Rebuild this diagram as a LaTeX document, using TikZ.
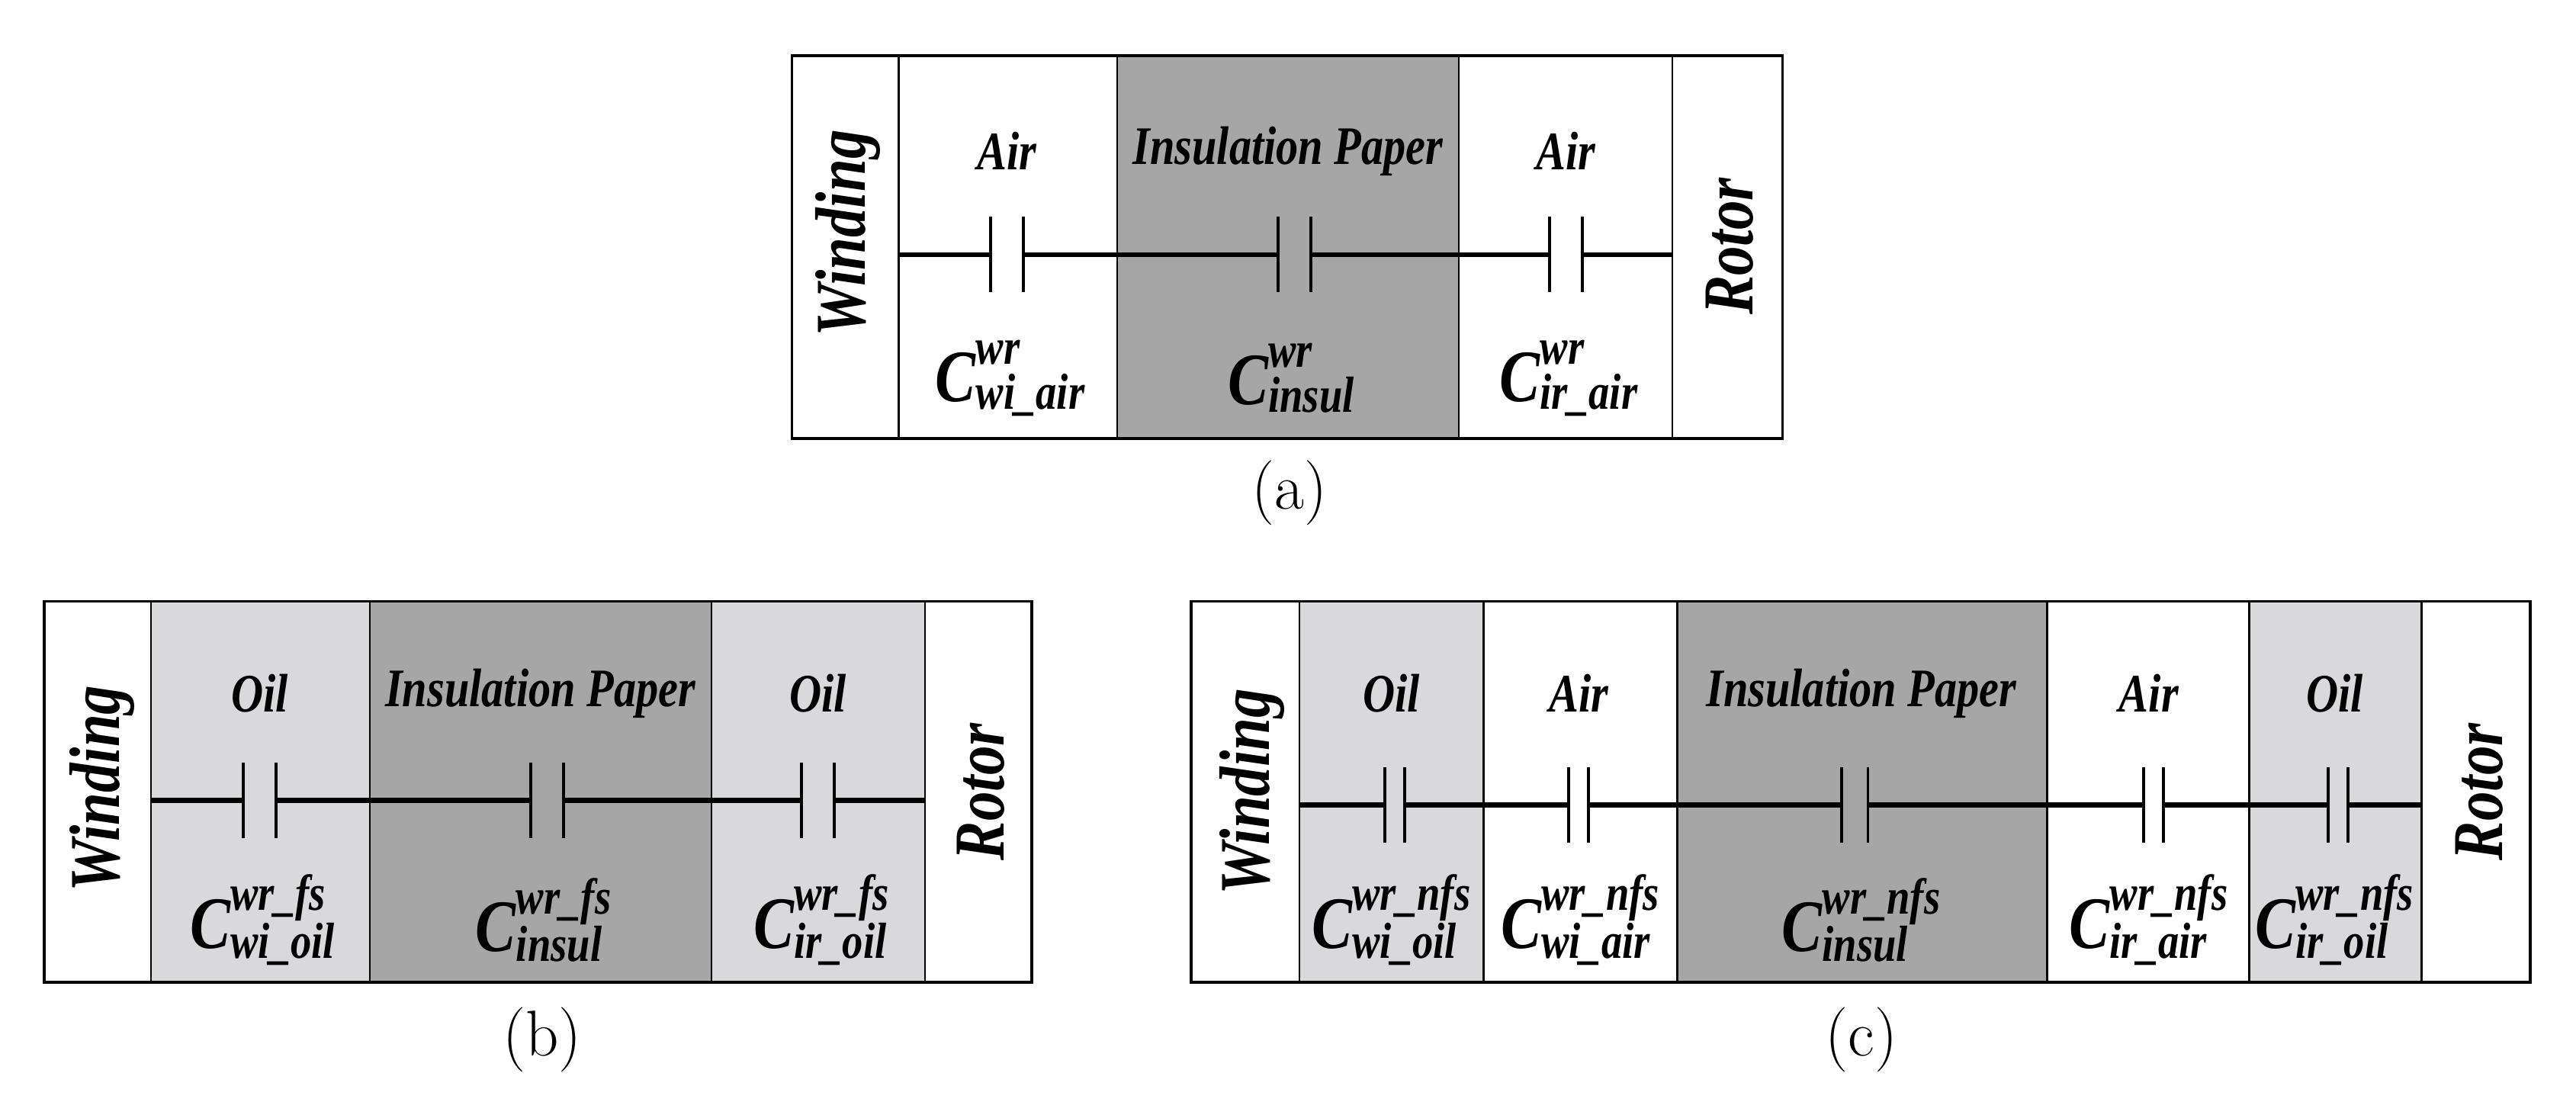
\documentclass[tikz,border=0pt]{standalone}
\usepackage{fontspec}
\newfontfamily\lab{Liberation Serif}[FakeStretch=0.82]
\usetikzlibrary{calc}
\definecolor{dk}{HTML}{A6A6A6}
\definecolor{lt}{HTML}{D9D9DB}
\newcommand\mycap[6]{%
 \coordinate (#1l) at ({#4-#6},#5); \coordinate (#1r) at ({#4+#6},#5);
 \coordinate (#1a) at (#2,#5); \coordinate (#1b) at (#3,#5);
 \draw[wire] (#1a) -- (#1l); \draw[wire] (#1r) -- (#1b);
 \draw[plate] ($(#1l)+(0,-23)$) -- ($(#1l)+(0,23)$);
 \draw[plate] ($(#1r)+(0,-23)$) -- ($(#1r)+(0,23)$);}
\newcommand\Cl[2]{\mbox{C}^{\mbox{\fontsize{44}{44}\selectfont #1}}_{\mbox{\fontsize{44}{44}\selectfont #2}}}
\begin{document}
\begin{tikzpicture}[x=0.05cm,y=-0.05cm,
 box/.style={line width=2.5pt},
 div/.style={line width=1.6pt},
 wire/.style={line width=4.5pt},
 plate/.style={line width=2.6pt},
 hdr/.style={font=\lab\fontsize{47}{52}\selectfont\bfseries\itshape},
 side/.style={font=\lab\fontsize{62}{66}\selectfont\bfseries\itshape,rotate=90},
 clab/.style={font=\lab\fontsize{64}{68}\selectfont\bfseries\itshape},
 captxt/.style={font=\fontsize{56}{60}\selectfont}]
\useasboundingbox (0,0) rectangle (1568,670.3);
% ---------- (a)
\fill[dk] (680,34) rectangle (888,267);
\foreach \x in {547,680,888,1018} \draw[div] (\x,34) -- (\x,267);
\draw[box] (482,34) rectangle (1085,267);
\node[side] (aw) at (516,142) {Winding};
\node[side] (ar) at (1053,150) {Rotor};
\node[hdr] (ah1) at (613,92) {Air};
\node[hdr] (ah2) at (784,92) {Insulation Paper};
\node[hdr] (ah3) at (953,92) {Air};
\mycap{a1}{547}{680}{613}{155}{10}
\mycap{a2}{680}{888}{788}{155}{10}
\mycap{a3}{888}{1018}{953}{155}{10}
\node[clab] (ac1) at (615,230) {$\Cl{wr}{wi\_air}$};
\node[clab] (ac2) at (786,230) {$\Cl{wr}{insul}$};
\node[clab] (ac3) at (955,230) {$\Cl{wr}{ir\_air}$};
\node[captxt] (capa) at (785,300) {(a)};
% ---------- (b)
\fill[lt] (92,366) rectangle (225,598);
\fill[dk] (225,366) rectangle (433,598);
\fill[lt] (433,366) rectangle (563,598);
\foreach \x in {92,225,433,563} \draw[div] (\x,366) -- (\x,598);
\draw[box] (27,366) rectangle (628,598);
\node[side] (bw) at (62,480) {Winding};
\node[side] (br) at (597,482) {Rotor};
\node[hdr] (bh1) at (158,422) {Oil};
\node[hdr] (bh2) at (329,422) {Insulation Paper};
\node[hdr] (bh3) at (498,422) {Oil};
\mycap{b1}{92}{225}{158}{487}{10}
\mycap{b2}{225}{433}{333}{487}{10}
\mycap{b3}{433}{563}{498}{487}{10}
\node[clab] (bc1) at (160,560) {$\Cl{wr\_fs}{wi\_oil}$};
\node[clab] (bc2) at (331,560) {$\Cl{wr\_fs}{insul}$};
\node[clab] (bc3) at (500,560) {$\Cl{wr\_fs}{ir\_oil}$};
\node[captxt] (capb) at (330,633) {(b)};
% ---------- (c)
\fill[lt] (791,366) rectangle (903,598);
\fill[dk] (1021,366) rectangle (1246,598);
\fill[lt] (1369,366) rectangle (1474,598);
\foreach \x in {791,903,1021,1246,1369,1474} \draw[div] (\x,366) -- (\x,598);
\draw[box] (725,366) rectangle (1540,598);
\node[side] (cw) at (762,482) {Winding};
\node[side] (cr) at (1509,482) {Rotor};
\node[hdr] (ch1) at (847,422) {Oil};
\node[hdr] (ch2) at (961,422) {Air};
\node[hdr] (ch3) at (1133,422) {Insulation Paper};
\node[hdr] (ch4) at (1308,422) {Air};
\node[hdr] (ch5) at (1421,422) {Oil};
\mycap{c1}{791}{903}{849}{490}{6}
\mycap{c2}{903}{1021}{961}{490}{6}
\mycap{c3}{1021}{1246}{1129}{490}{8}
\mycap{c4}{1246}{1369}{1311}{490}{6}
\mycap{c5}{1369}{1474}{1423}{490}{6}
\node[clab] (cc1) at (847,560) {$\Cl{wr\_nfs}{wi\_oil}$};
\node[clab] (cc2) at (962,560) {$\Cl{wr\_nfs}{wi\_air}$};
\node[clab] (cc3) at (1133,560) {$\Cl{wr\_nfs}{insul}$};
\node[clab] (cc4) at (1308,560) {$\Cl{wr\_nfs}{ir\_air}$};
\node[clab] (cc5) at (1421,560) {$\Cl{wr\_nfs}{ir\_oil}$};
\node[captxt] (capc) at (1133,633) {(c)};
\end{tikzpicture}
\end{document}
